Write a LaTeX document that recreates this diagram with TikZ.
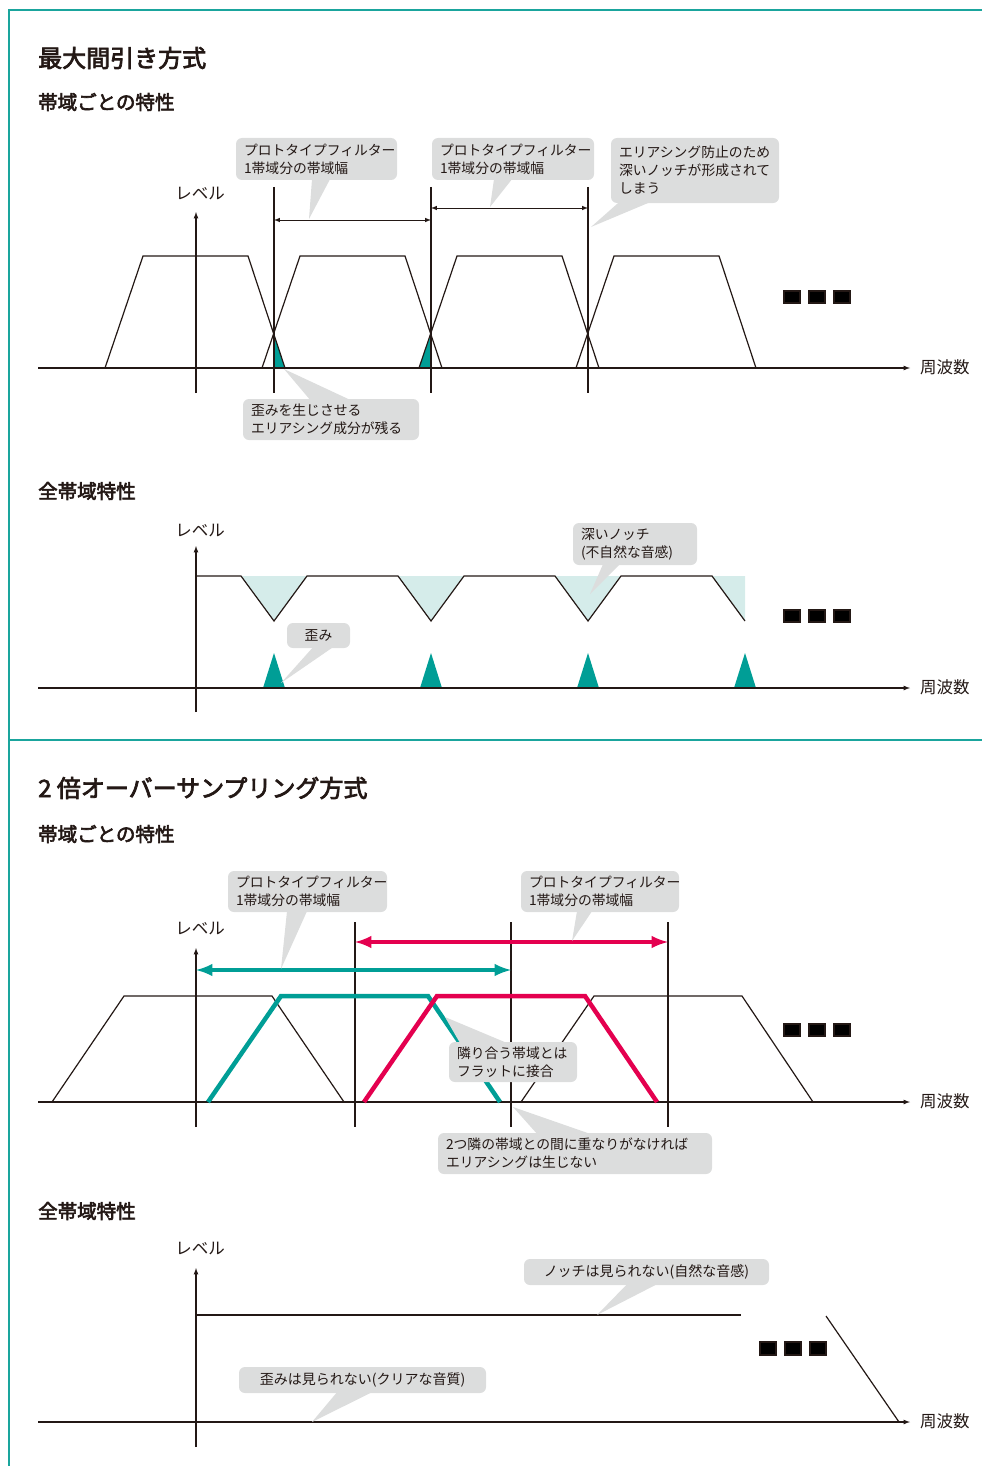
\documentclass[tikz,border=0pt]{standalone}
\usepackage{fontspec}
\setmainfont{Noto Sans CJK JP}
\newfontfamily\headfont[FakeBold=3]{Noto Sans CJK JP}
\usepackage{xcolor}
\usepackage{tikz}

\definecolor{ink}{HTML}{231815}
\definecolor{framec}{HTML}{1AA59D}
\definecolor{tealc}{HTML}{009E96}
\definecolor{magc}{HTML}{E4004F}
\definecolor{callgray}{HTML}{DCDDDD}
\definecolor{notchc}{HTML}{D5ECEA}

\tikzset{
  frame/.style={draw=framec, line width=1.5pt},
  ink/.style={draw=ink, line width=1.2pt},
  axis/.style={draw=ink, line width=1.2pt, -latex},
  heading/.style={anchor=west, inner sep=0pt, text=ink, font=\fontsize{24}{28}\selectfont\headfont},
  subhead/.style={anchor=west, inner sep=0pt, text=ink, font=\fontsize{19.5}{22}\selectfont\headfont},
  axlabel/.style={inner sep=0pt, text=ink, font=\fontsize{16.5}{18}\selectfont},
  callout/.style={fill=callgray, rounded corners=6pt, inner xsep=8pt, inner ysep=0pt,
    align=left, text=ink, font=\fontsize{13.8}{18}\selectfont},
  thickline/.style={line width=4.5pt}
}

\begin{document}
\begin{tikzpicture}[x=1pt,y=-1pt]
\useasboundingbox (0,0) rectangle (982,1466);

% frame
\draw[frame] (982,10) -- (9,10) -- (9,1466);
\draw[frame] (9,740) -- (982,740);

% ---------------- 最大間引き方式 ----------------
\node[heading] (h1) at (38,58) {最大間引き方式};
\node[subhead] (s1) at (38,102) {帯域ごとの特性};

% per band
\fill[tealc] (274,334) -- (274,368) -- (285,368) -- cycle;
\fill[tealc] (431,334) -- (419,368) -- (431,368) -- cycle;
\foreach \x in {0,157,314,471}
  \draw[ink] (105+\x,368) -- (143+\x,256) -- (248+\x,256) -- (285+\x,368);
\foreach \x in {274,431,588}
  \draw[ink] (\x,187) -- (\x,393);
\coordinate (v1) at (274,220);
\coordinate (v2) at (431,220);
\coordinate (v3) at (431,208);
\coordinate (v4) at (588,208);
\draw[ink, line width=1pt, latex-latex] (v1) -- (v2);
\draw[ink, line width=1pt, latex-latex] (v3) -- (v4);
\draw[axis] (38,368) -- (910,368);
\draw[axis] (196,393) -- (196,212);
\node[axlabel] (l1) at (200,194) {レベル};
\node[axlabel, anchor=west] (f1) at (920,367) {周波数};
\foreach \x in {784,809,834}
  \fill[ink] (\x,291) rectangle +(16,12);

\node[callout, text width=145pt, minimum height=42pt] (c1) at (316.5,159) {プロトタイプフィルター\\1帯域分の帯域幅};
\coordinate (t1) at (309,219);
\fill[callgray] ([xshift=-4.5pt,yshift=1pt]c1.south) -- (t1) -- ([xshift=13.5pt,yshift=1pt]c1.south) -- cycle;
\node[callout, text width=146pt, minimum height=42pt] (c2) at (513,159) {プロトタイプフィルター\\1帯域分の帯域幅};
\coordinate (t2) at (490,207);
\fill[callgray] ([xshift=-19pt,yshift=1pt]c2.south) -- (t2) -- ([xshift=-1pt,yshift=1pt]c2.south) -- cycle;
\node[callout, text width=152pt, minimum height=65pt] (c3) at (695,170.5) {エリアシング防止のため\\深いノッチが形成されて\\しまう};
\coordinate (t3) at (591,227);
\fill[callgray] ([xshift=-76pt,yshift=1pt]c3.south) -- (t3) -- ([xshift=-45pt,yshift=1pt]c3.south) -- cycle;
\node[callout, text width=160pt, minimum height=41pt] (c4) at (331,419.5) {歪みを生じさせる\\エリアシング成分が残る};
\coordinate (t4) at (284,369);
\fill[callgray] ([xshift=-21pt,yshift=-1pt]c4.north) -- (t4) -- ([xshift=19pt,yshift=-1pt]c4.north) -- cycle;

% whole band
\node[subhead] (s2) at (38,491) {全帯域特性};
\fill[notchc] (241,576) -- (274,621) -- (307,576) -- cycle;
\fill[notchc] (398,576) -- (431,621) -- (464,576) -- cycle;
\fill[notchc] (555,576) -- (588,621) -- (621,576) -- cycle;
\fill[notchc] (712,576) -- (745,621) -- (745,576) -- cycle;
\draw[ink] (196,576) -- (241,576) -- (274,621) -- (307,576) -- (398,576) -- (431,621)
  -- (464,576) -- (555,576) -- (588,621) -- (621,576) -- (712,576) -- (745,621);
\foreach \x in {274,431,588,745}
  \fill[tealc] (\x-11,688) -- (\x,653) -- (\x+11,688) -- cycle;
\draw[axis] (38,688) -- (910,688);
\draw[axis] (196,712) -- (196,546);
\node[axlabel] (l2) at (200,531) {レベル};
\node[axlabel, anchor=west] (f2) at (920,687) {周波数};
\foreach \x in {784,809,834}
  \fill[ink] (\x,610) rectangle +(16,12);

\node[callout, text width=108pt, minimum height=42pt] (c5) at (635,544) {深いノッチ\\(不自然な音感)};
\coordinate (t5) at (590,594);
\fill[callgray] ([xshift=-32pt,yshift=1pt]c5.south) -- (t5) -- ([xshift=-15pt,yshift=1pt]c5.south) -- cycle;
\node[callout, align=center, text width=47pt, minimum height=25pt] (c6) at (318.5,635.5) {歪み};
\coordinate (t6) at (281,683);
\fill[callgray] ([xshift=-5.5pt,yshift=1pt]c6.south) -- (t6) -- ([xshift=14.5pt,yshift=1pt]c6.south) -- cycle;

% ---------------- 2倍オーバーサンプリング方式 ----------------
\node[heading] (h2) at (38,788) {2 倍オーバーサンプリング方式};
\node[subhead] (s3) at (38,834) {帯域ごとの特性};

% per band
\draw[ink] (52,1102) -- (124,996) -- (272,996) -- (344,1102);
\draw[ink] (521,1102) -- (594,996) -- (742,996) -- (813,1102);
\foreach \x in {355,511,668}
  \draw[ink] (\x,922) -- (\x,1127);
\draw[axis] (38,1102) -- (910,1102);
\draw[axis] (196,1127) -- (196,948);
\draw[tealc, thickline] (208,1102) -- (281,996) -- (428,996) -- (500,1102);
\draw[magc, thickline] (364,1102) -- (437,996) -- (585,996) -- (657,1102);
\coordinate (w1) at (196,970);
\coordinate (w2) at (511,970);
\coordinate (w3) at (355,942);
\coordinate (w4) at (668,942);
\draw[tealc, thickline, latex-latex] (w1) -- (w2);
\draw[magc, thickline, latex-latex] (w3) -- (w4);
\node[axlabel] (l3) at (200,928) {レベル};
\node[axlabel, anchor=west] (f3) at (920,1101) {周波数};
\foreach \x in {784,809,834}
  \fill[ink] (\x,1024) rectangle +(16,12);

\node[callout, text width=143pt, minimum height=41pt] (c7) at (307.5,891.5) {プロトタイプフィルター\\1帯域分の帯域幅};
\coordinate (t7) at (281,969);
\fill[callgray] ([xshift=-20.5pt,yshift=1pt]c7.south) -- (t7) -- ([xshift=-0.5pt,yshift=1pt]c7.south) -- cycle;
\node[callout, text width=142pt, minimum height=41pt] (c8) at (600,891.5) {プロトタイプフィルター\\1帯域分の帯域幅};
\coordinate (t8) at (572,941);
\fill[callgray] ([xshift=-23pt,yshift=1pt]c8.south) -- (t8) -- ([xshift=-8pt,yshift=1pt]c8.south) -- cycle;
\coordinate (t9) at (445,1017);
\fill[callgray] ([xshift=-53pt,yshift=-1pt]513,1042) -- (t9) -- ([xshift=-6pt,yshift=-1pt]513,1042) -- cycle;
\node[callout, text width=112pt, minimum height=40pt] (c9) at (513,1062) {隣り合う帯域とは\\フラットに接合};
\node[callout, text width=258pt, minimum height=41pt] (c10) at (575,1153.5) {2つ隣の帯域との間に重なりがなければ\\エリアシングは生じない};
\coordinate (t10) at (513,1107);
\fill[callgray] ([xshift=-38pt,yshift=-1pt]c10.north) -- (t10) -- ([xshift=15pt,yshift=-1pt]c10.north) -- cycle;

% whole band
\node[subhead] (s4) at (38,1211) {全帯域特性};
\draw[ink] (196,1315) -- (741,1315);
\draw[ink] (826,1316) -- (899,1422);
\draw[axis] (38,1422) -- (910,1422);
\draw[axis] (196,1447) -- (196,1268);
\node[axlabel] (l4) at (200,1248) {レベル};
\node[axlabel, anchor=west] (f4) at (920,1421) {周波数};
\foreach \x in {760,785,810}
  \fill[ink] (\x,1342) rectangle +(16,13);

\node[callout, align=center, text width=229pt, minimum height=26pt, font=\fontsize{14}{16}\selectfont] (c11) at (646.5,1272) {ノッチは見られない(自然な音感)};
\coordinate (t11) at (597,1315);
\fill[callgray] ([xshift=-19.5pt,yshift=1pt]c11.south) -- (t11) -- ([xshift=10.5pt,yshift=1pt]c11.south) -- cycle;
\node[callout, align=center, text width=231pt, minimum height=26pt, font=\fontsize{14}{16}\selectfont] (c12) at (362.5,1380) {歪みは見られない(クリアな音質)};
\coordinate (t12) at (312,1422);
\fill[callgray] ([xshift=-25.5pt,yshift=1pt]c12.south) -- (t12) -- ([xshift=9.5pt,yshift=1pt]c12.south) -- cycle;
\end{tikzpicture}
\end{document}
